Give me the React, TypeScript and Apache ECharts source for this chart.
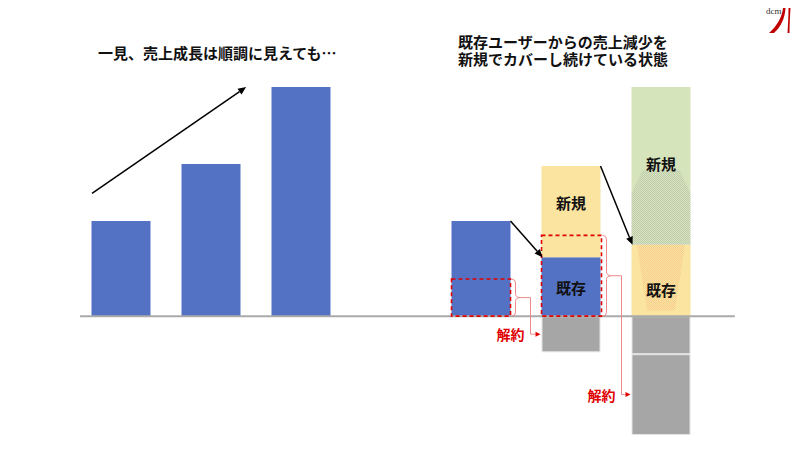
import React, { useEffect, useRef } from 'react';
import * as echarts from 'echarts';

// ---- data ----
const categories = ['前年', '今年', '来年', '', '既存1', '既存2', '既存3'];
const baseValues: (number | null)[] = [100, 160, 241, null, 100, 62, 75];
const newValues: (number | null)[] = [null, null, null, null, null, 96, 166];
const churnFirst: (number | null)[] = [null, null, null, null, null, -38, -40];
const churnSecond: (number | null)[] = [null, null, null, null, null, null, -85];
// existing revenue that churns in the next period (dashed boxes)
const dashedBoxes = [
  { cat: 4, top: 39 },
  { cat: 5, top: 85 },
];
// churn target (middle of the gray segment in the next bar)
const churnTargets = [
  { fromCat: 4, toCat: 5, value: -19 },
  { fromCat: 5, toCat: 6, value: -82.5 },
];
const churnLabel = '解約';
const segmentLabels = [
  { cat: 5, value: 120, text: '新規' },
  { cat: 5, value: 30, text: '既存' },
  { cat: 6, value: 161, text: '新規' },
  { cat: 6, value: 28, text: '既存' },
];
// hatched "shift" shape inside the last bar: [value, half-width fraction]
const hatchNew: [number, number][] = [[153.5, 0.63], [129, 1], [75, 1]];
const hatchExisting: [number, number][] = [[75, 0.82], [6, 0.47]];
const leftTitle = '一見、売上成長は順調に見えても…';
const rightTitleLines = ['既存ユーザーからの売上減少を', '新規でカバーし続けている状態'];

const Y_MIN = -125;
const Y_MAX = 241;
const BAR_WIDTH = 59;

const BLUE = '#5472c4';
const YELLOW = '#fae4a0';
const GREEN = '#d6e4bc';
const GRAY = '#a6a6a6';
const RED = '#e00000';
const FONT = '"Noto Sans CJK JP", "Noto Sans", sans-serif';

function makeDots(color: string) {
  const c = document.createElement('canvas');
  c.width = 2;
  c.height = 2;
  const ctx = c.getContext('2d');
  if (ctx) {
    ctx.fillStyle = color;
    ctx.fillRect(0, 0, 1, 1);
    ctx.fillRect(1, 1, 1, 1);
  }
  return c;
}

function arrow(x1: number, y1: number, x2: number, y2: number, color: string, width: number, headLen: number, headW: number) {
  const ang = Math.atan2(y2 - y1, x2 - x1);
  const bx = x2 - headLen * Math.cos(ang);
  const by = y2 - headLen * Math.sin(ang);
  const nx = -Math.sin(ang) * headW;
  const ny = Math.cos(ang) * headW;
  return [
    { type: 'line', z: 20, shape: { x1, y1, x2: bx, y2: by }, style: { stroke: color, lineWidth: width } },
    { type: 'polygon', z: 20, shape: { points: [[x2, y2], [bx + nx, by + ny], [bx - nx, by - ny]] }, style: { fill: color } },
  ];
}

function item(v: number | null, color: string) {
  return v === null ? null : { value: v, itemStyle: { color } };
}

export default function App() {
  const ref = useRef<HTMLDivElement>(null);
  useEffect(() => {
    if (!ref.current) return;
    const chart = echarts.init(ref.current, undefined, { renderer: 'svg' });
    const baseColors = [BLUE, BLUE, BLUE, BLUE, BLUE, BLUE, YELLOW];
    const newColors = [GREEN, GREEN, GREEN, GREEN, GREEN, YELLOW, GREEN];
    chart.setOption({
      animation: false,
      grid: { left: 76, right: 94, top: 87, bottom: 15, containLabel: false },
      xAxis: {
        type: 'category',
        data: categories,
        axisLine: { show: false },
        axisTick: { show: false },
        axisLabel: { show: false },
      },
      yAxis: {
        type: 'value',
        min: Y_MIN,
        max: Y_MAX,
        show: false,
        splitLine: { show: false },
      },
      series: [
        { type: 'bar', name: 'base', stack: 'total', barWidth: BAR_WIDTH, data: baseValues.map((v, i) => item(v, baseColors[i])) },
        { type: 'bar', name: 'new', stack: 'total', barWidth: BAR_WIDTH, data: newValues.map((v, i) => item(v, newColors[i])) },
        { type: 'bar', name: 'churn1', stack: 'total', barWidth: BAR_WIDTH, itemStyle: { color: GRAY, borderColor: '#e4e4e4', borderWidth: 1 }, data: churnFirst },
        { type: 'bar', name: 'churn2', stack: 'total', barWidth: BAR_WIDTH, itemStyle: { color: GRAY, borderColor: '#e4e4e4', borderWidth: 1 }, data: churnSecond },
      ],
    });

    const P = (cat: number, val: number) => {
      const p0 = chart.convertToPixel({ xAxisIndex: 0, yAxisIndex: 0 }, [0, val]) as number[];
      const p1 = chart.convertToPixel({ xAxisIndex: 0, yAxisIndex: 0 }, [1, val]) as number[];
      const band = p1[0] - p0[0];
      return [p0[0] + cat * band, p0[1]];
    };
    const hw = BAR_WIDTH / 2;
    const g: any[] = [];

    // baseline
    const b0 = P(-0.456, 0);
    const b1 = P(6.82, 0);
    g.push({ type: 'line', z: 15, shape: { x1: b0[0], y1: b0[1], x2: b1[0], y2: b1[1] }, style: { stroke: '#aaaaaa', lineWidth: 2 } });

    // growth arrow
    const ga = P(-0.322, 129);
    const gb = P(1.39, 241);
    g.push(...arrow(ga[0], ga[1], gb[0], gb[1], '#000', 1.5, 8, 3.5));

    // arrows between bars
    const a1s = P(4, baseValues[4] as number);
    const a1e = P(5, baseValues[5] as number);
    g.push(...arrow(a1s[0] + hw, a1s[1], a1e[0] - hw + 1, a1e[1], '#000', 1.5, 8, 3.5));
    const a2s = P(5, (baseValues[5] as number) + (newValues[5] as number));
    const a2e = P(6, baseValues[6] as number);
    g.push(...arrow(a2s[0] + hw, a2s[1], a2e[0] - hw + 1, a2e[1], '#000', 1.5, 8, 3.5));

    // hatch
    const hatchPts = (prof: [number, number][], cat: number) => {
      const left = prof.map(([v, f]) => { const p = P(cat, v); return [p[0] - hw * f, p[1]]; });
      const right = prof.map(([v, f]) => { const p = P(cat, v); return [p[0] + hw * f, p[1]]; }).reverse();
      return [...left, ...right];
    };
    g.push({ type: 'polygon', z: 10, shape: { points: hatchPts(hatchNew, 6) }, style: { fill: { image: makeDots('rgba(150,155,150,0.34)'), repeat: 'repeat' } } });
    g.push({ type: 'polygon', z: 10, shape: { points: hatchPts(hatchExisting, 6) }, style: { fill: { image: makeDots('rgba(240,170,110,0.4)'), repeat: 'repeat' } } });

    // dashed boxes, brackets, churn connectors
    dashedBoxes.forEach((d, i) => {
      const t = P(d.cat, d.top);
      const b = P(d.cat, 0);
      const x0 = t[0] - hw;
      const x1 = t[0] + hw + (i === 0 ? 0 : 1);
      g.push({ type: 'rect', z: 18, shape: { x: x0, y: t[1], width: x1 - x0, height: b[1] - t[1] }, style: { fill: 'none', stroke: RED, lineWidth: 1.6, lineDash: [4, 3] } });
      const bx = x1 + 1;
      const top = t[1];
      const bot = b[1];
      const mid = (top + bot) / 2;
      const lc = '#f08a8a';
      const ls = { stroke: lc, lineWidth: 1, fill: 'none' };
      g.push({ type: 'bezierCurve', z: 18, shape: { x1: bx, y1: top, x2: bx + 4, y2: top + 4, cpx1: bx + 4, cpy1: top }, style: ls });
      g.push({ type: 'line', z: 18, shape: { x1: bx + 4, y1: top + 4, x2: bx + 4, y2: mid - 4 }, style: ls });
      g.push({ type: 'bezierCurve', z: 18, shape: { x1: bx + 4, y1: mid - 4, x2: bx + 9, y2: mid, cpx1: bx + 4, cpy1: mid }, style: ls });
      g.push({ type: 'bezierCurve', z: 18, shape: { x1: bx + 9, y1: mid, x2: bx + 4, y2: mid + 4, cpx1: bx + 4, cpy1: mid }, style: ls });
      g.push({ type: 'line', z: 18, shape: { x1: bx + 4, y1: mid + 4, x2: bx + 4, y2: bot - 4 }, style: ls });
      g.push({ type: 'bezierCurve', z: 18, shape: { x1: bx + 4, y1: bot - 4, x2: bx, y2: bot, cpx1: bx + 4, cpy1: bot }, style: ls });

      const ct = churnTargets[i];
      const tp = P(ct.toCat, ct.value);
      const tx = tp[0] - hw - 1;
      const ty = tp[1];
      const vx = bx + 9 + 10;
      g.push({ type: 'polyline', z: 18, shape: { points: [[bx + 9, mid], [vx, mid], [vx, ty], [tx - 5, ty]] }, style: ls });
      g.push({ type: 'polygon', z: 18, shape: { points: [[tx, ty], [tx - 5, ty - 2.5], [tx - 5, ty + 2.5]] }, style: { fill: RED } });
      g.push({ type: 'text', z: 20, x: vx - 6, y: ty, style: { text: churnLabel, font: `bold 14px ${FONT}`, fill: RED, align: 'right', textAlign: 'right', verticalAlign: 'middle', textVerticalAlign: 'middle' } });
    });

    // segment labels
    segmentLabels.forEach((s) => {
      const p = P(s.cat, s.value);
      g.push({ type: 'text', z: 25, x: p[0], y: p[1], style: { text: s.text, font: `bold 15px ${FONT}`, fill: '#111', align: 'center', textAlign: 'center', verticalAlign: 'middle', textVerticalAlign: 'middle' } });
    });

    // titles
    g.push({ type: 'text', z: 25, x: 98, y: 52, style: { text: leftTitle, font: `bold 15px ${FONT}`, fill: '#111', align: 'left', textAlign: 'left', verticalAlign: 'middle', textVerticalAlign: 'middle' } });
    rightTitleLines.forEach((line, i) => {
      g.push({ type: 'text', z: 25, x: 458, y: 41 + i * 17, style: { text: line, font: `bold 15px ${FONT}`, lineHeight: 16, fill: '#111', align: 'left', textAlign: 'left', verticalAlign: 'middle', textVerticalAlign: 'middle' } });
    });

    // logo
    g.push({ type: 'text', z: 25, x: 766, y: 11, style: { text: 'dcm', font: '9px "Liberation Serif", serif', fill: '#333', align: 'left', textAlign: 'left', verticalAlign: 'middle', textVerticalAlign: 'middle' } });
    g.push({ type: 'logoA', z: 25, x: 767, y: 8, style: { fill: '#c00000' } });
    g.push({ type: 'logoB', z: 25, x: 767, y: 8, style: { fill: '#c00000' } });

    chart.setOption({ graphic: { elements: g } });
    return () => chart.dispose();
  }, []);
  return <div ref={ref} style={{ width: 800, height: 450, position: 'absolute', left: 0, top: 0 }} />;
}

echarts.graphic.registerShape('logoA', echarts.graphic.extendPath('M16 0 L18.5 0 C18 10 14 19 7 25 L2 25 C9 19 15 10 16 0 Z', {}) as any);
echarts.graphic.registerShape('logoB', echarts.graphic.extendPath('M21.5 0 L23.5 0 C23 9 22.5 17 22.5 25 L20.5 25 C21 17 21.5 9 21.5 0 Z', {}) as any);
